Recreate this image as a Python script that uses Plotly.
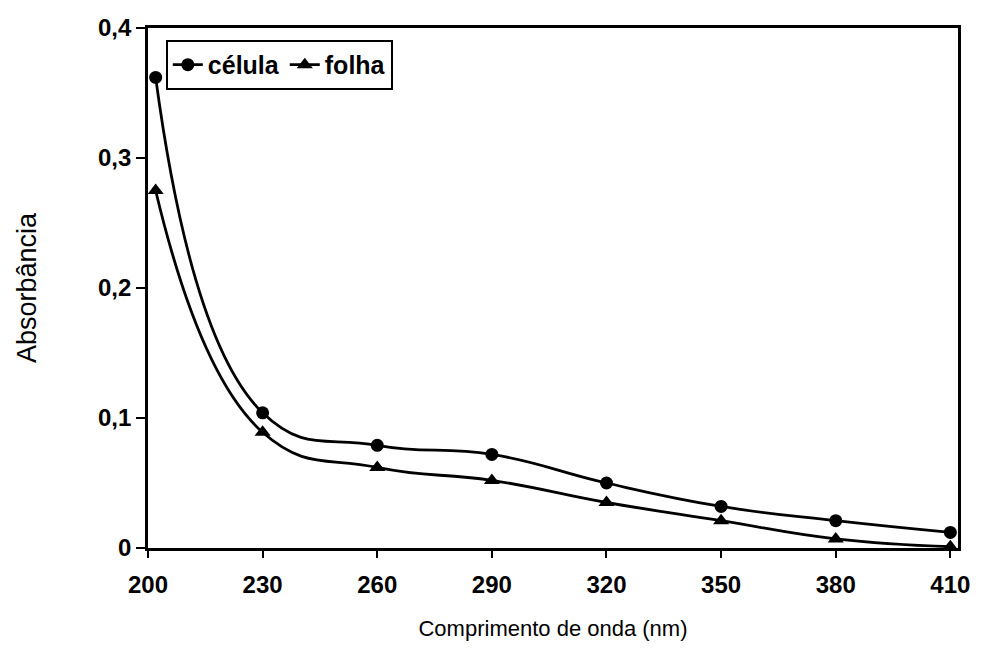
import plotly.graph_objects as go

# Absorbance spectra (wavelength in nm)
comprimento = [202, 230, 260, 290, 320, 350, 380, 410]
celula = [0.362, 0.104, 0.079, 0.072, 0.050, 0.032, 0.021, 0.012]
folha = [0.275, 0.089, 0.062, 0.052, 0.035, 0.021, 0.007, 0.001]

x_ticks = [200, 230, 260, 290, 320, 350, 380, 410]
y_ticks = [0, 0.1, 0.2, 0.3, 0.4]
y_tick_text = ["0", "0,1", "0,2", "0,3", "0,4"]

FONT = "Liberation Sans, Arial, sans-serif"

fig = go.Figure()
fig.add_trace(go.Scatter(
    x=comprimento, y=celula, name="célula", mode="lines+markers",
    line=dict(color="black", width=2.8, shape="spline", smoothing=1.3),
    marker=dict(symbol="circle", size=13, color="black"),
))
fig.add_trace(go.Scatter(
    x=comprimento, y=folha, name="folha", mode="lines+markers",
    line=dict(color="black", width=2.8, shape="spline", smoothing=1.3),
    marker=dict(symbol="triangle-up", size=14, color="black"),
))

fig.update_layout(
    width=982, height=655,
    margin=dict(l=148, r=22, t=28, b=107),
    paper_bgcolor="white", plot_bgcolor="white",
    font=dict(family=FONT, color="black"),
    showlegend=True,
    legend=dict(
        orientation="h", x=0.022, y=0.977, xanchor="left", yanchor="top",
        bgcolor="white", bordercolor="black", borderwidth=2,
        font=dict(family=FONT, size=25, color="black", weight="bold"),
        itemwidth=30, tracegroupgap=0,
    ),
    xaxis=dict(
        range=[200, 412], tickvals=x_ticks, ticks="outside", ticklen=7,
        tickwidth=1.5, tickcolor="black",
        showline=True, linecolor="black", linewidth=2.8, mirror=True,
        showgrid=False, zeroline=False, ticklabelstandoff=6,
        tickfont=dict(family=FONT, size=24, weight="bold"),
        title=dict(text="Comprimento de onda (nm)", font=dict(family=FONT, size=22),
                   standoff=24),
    ),
    yaxis=dict(
        range=[0, 0.4], tickvals=y_ticks, ticktext=y_tick_text,
        ticks="outside", ticklen=9, tickwidth=1.5, tickcolor="black",
        showline=True, linecolor="black", linewidth=2.8, mirror=True,
        showgrid=False, zeroline=False,
        tickfont=dict(family=FONT, size=24, weight="bold"),
        title=dict(text="Absorbância", font=dict(family=FONT, size=27),
                   standoff=54),
    ),
)

fig.write_html("out.html")
